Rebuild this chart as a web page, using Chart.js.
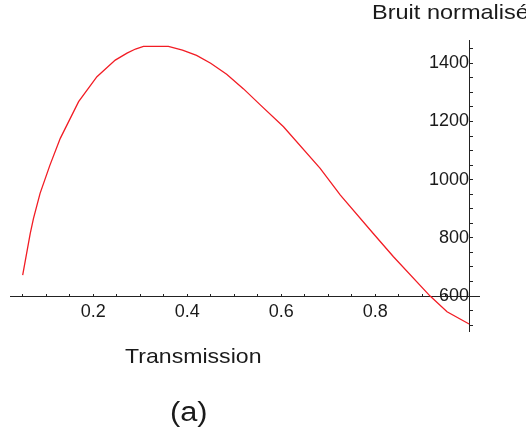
<!DOCTYPE html>
<html>
<head>
<meta charset="utf-8">
<script src="https://cdn.jsdelivr.net/npm/chart.js@4"></script>
<style>
html,body{margin:0;padding:0;background:#fff;overflow:hidden;}
#wrap{position:relative;width:526px;height:434px;overflow:hidden;}
canvas{display:block;}
.lbl{position:absolute;font-family:"Liberation Sans",Arial,sans-serif;color:#1a1a1a;line-height:1;white-space:nowrap;transform-origin:0 0;}
</style>
</head>
<body>
<div id="wrap">
<canvas id="c" width="526" height="434"></canvas>
<div class="lbl" style="left:372px;top:1px;font-size:21px;transform:scaleX(1.12);">Bruit normalisé</div>
<div class="lbl" style="left:125px;top:345px;font-size:21px;transform:scaleX(1.1);">Transmission</div>
<div class="lbl" style="left:170px;top:399px;font-size:27px;transform:scaleX(1.14);">(a)</div>
</div>
<script>
// Data
const transmission = [0.05, 0.066, 0.073, 0.087, 0.108, 0.130, 0.169, 0.208, 0.247, 0.272, 0.290, 0.307, 0.360, 0.390, 0.420, 0.450, 0.484, 0.520, 0.555, 0.605, 0.683, 0.726, 0.796, 0.839, 0.917, 0.953, 1.0];
const bruit        = [672, 815, 867, 953, 1050, 1142, 1268, 1354, 1411, 1435, 1449, 1458, 1458, 1445, 1427, 1400, 1362, 1312, 1258, 1182, 1039, 947, 815, 735, 600, 546, 504];

// Axis ticks
const xTickValues = [0.05,0.1,0.15,0.2,0.25,0.3,0.35,0.4,0.45,0.5,0.55,0.6,0.65,0.7,0.75,0.8,0.85,0.9,0.95,1.0];
const xTickLabels = [0.2, 0.4, 0.6, 0.8];
const yTickValues = [500,550,600,650,700,750,800,850,900,950,1000,1050,1100,1150,1200,1250,1300,1350,1400,1450];
const yTickLabels = [600, 800, 1000, 1200, 1400];

const points = transmission.map((t, i) => ({x: t, y: bruit[i]}));
const axisColor = '#222';
const tickFont = {family: '"Liberation Sans", Arial, sans-serif', size: 18};

new Chart(document.getElementById('c'), {
  type: 'line',
  data: {
    datasets: [{
      data: points,
      borderColor: '#f21c24',
      borderWidth: 1.3,
      pointRadius: 0,
      tension: 0,
      fill: false
    }]
  },
  options: {
    responsive: false,
    animation: false,
    layout: {padding: {left: 10, right: 47, top: 40, bottom: 103}},
    plugins: {legend: {display: false}, tooltip: {enabled: false}, title: {display: false}},
    scales: {
      x: {
        type: 'linear',
        position: {y: 600},
        min: 0.023, max: 1.021,
        bounds: 'data',
        afterBuildTicks: s => { s.ticks = xTickValues.map(v => ({value: v})); },
        afterFit: s => { s.height = 0; },
        ticks: {
          autoSkip: false, maxRotation: 0, padding: 8, color: '#1a1a1a', font: tickFont,
          callback: v => xTickLabels.some(m => Math.abs(m - v) < 1e-6) ? v.toFixed(1) : ''
        },
        grid: {display: true, drawOnChartArea: false, drawTicks: true, tickLength: -3, tickColor: axisColor, tickWidth: 1},
        border: {display: true, color: axisColor, width: 1}
      },
      y: {
        type: 'linear',
        position: {x: 1.0},
        min: 480, max: 1480,
        bounds: 'data',
        afterBuildTicks: s => { s.ticks = yTickValues.map(v => ({value: v})); },
        afterFit: s => { s.width = 0; },
        ticks: {
          autoSkip: false, padding: 0, color: '#1a1a1a', font: tickFont,
          callback: v => yTickLabels.includes(Math.round(v)) ? String(Math.round(v)) : ''
        },
        grid: {display: true, drawOnChartArea: false, drawTicks: true, tickLength: -4, tickColor: axisColor, tickWidth: 1},
        border: {display: true, color: axisColor, width: 1}
      }
    }
  }
});
</script>
</body>
</html>
